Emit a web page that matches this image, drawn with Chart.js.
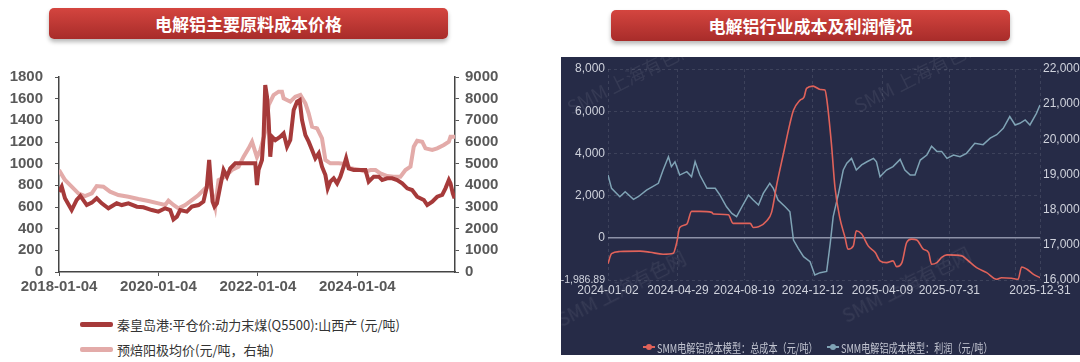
<!DOCTYPE html>
<html>
<head>
<meta charset="utf-8">
<script src="https://cdn.jsdelivr.net/npm/chart.js@4.4.1/dist/chart.umd.min.js"></script>
<style>
body{margin:0;width:1080px;height:362px;position:relative;overflow:hidden;background:#fff;font-family:'Noto Sans CJK SC','Noto Sans',sans-serif}
.banner{position:absolute;width:399px;height:31px;line-height:31px;border-radius:5px;background:linear-gradient(#d4453f,#a82c2a);box-shadow:0 3px 4px rgba(0,0,0,0.28);color:#fff;font-weight:bold;font-size:17px;text-align:center}
#coal{position:absolute;left:0;top:50px}
.lg{position:absolute;left:80px;height:16px;display:flex;align-items:center;font-size:13px;color:#333;white-space:nowrap}
.lg i{display:inline-block;width:33px;height:5px;border-radius:2px;margin-right:4px}
#panel{position:absolute;left:561px;top:57px;width:519px;height:298px;background:#262b47;overflow:hidden}
#panel canvas{position:absolute;left:0;top:0}
.wm{position:absolute;font-size:19px;line-height:22px;color:rgba(255,255,255,0.07);white-space:nowrap;transform:rotate(-27deg);transform-origin:0 100%;pointer-events:none}
.leg2{position:absolute;top:282px;height:16px;display:flex;align-items:center;color:#c3c6d2;font-size:12px;white-space:nowrap}
.leg2 .ic{position:relative;width:12px;height:16px;margin-right:2px}
.leg2 .ic:before{content:'';position:absolute;left:0;top:7px;width:12px;height:2px;background:var(--c)}
.leg2 .ic:after{content:'';position:absolute;left:3px;top:5px;width:6px;height:6px;border-radius:50%;background:var(--c)}
.leg2 .t{display:inline-block;transform:scaleX(0.76);transform-origin:0 50%}
</style>
</head>
<body>
<div class="banner" style="left:49px;top:8px">电解铝主要原料成本价格</div>
<div class="banner" style="left:611px;top:10px">电解铝行业成本及利润情况</div>

<canvas id="coal" width="540" height="250" style="width:540px;height:250px"></canvas>
<div class="lg" style="top:316px"><i style="background:#a63a3a"></i>秦皇岛港:平仓价:动力末煤(Q5500):山西产 (元/吨)</div>
<div class="lg" style="top:341px"><i style="background:#e3aba9"></i>预焙阳极均价(元/吨，右轴)</div>

<div id="panel">
  <canvas id="smm" width="519" height="298" style="width:519px;height:298px"></canvas>
  <div class="wm" style="left:12px;top:39px">SMM 上海有色网</div>
  <div class="wm" style="left:299px;top:37px">SMM 上海有色网</div>
  <div class="wm" style="left:2px;top:251px">SMM 上海有色网</div>
  <div class="wm" style="left:287px;top:247px">SMM 上海有色网</div>
  <div class="leg2" style="left:82px"><span class="ic" style="--c:#e0625a"></span><span class="t">SMM电解铝成本模型：总成本（元/吨）</span></div>
  <div class="leg2" style="left:266px"><span class="ic" style="--c:#7fa3b5"></span><span class="t">SMM电解铝成本模型：利润（元/吨）</span></div>
</div>

<script>
const DAY = 86400000;
const dayOf = (from, s) => Math.round((Date.parse(s) - Date.parse(from)) / DAY);
const pts = (d, v) => d.map((x, i) => ({x: x, y: v[i]}));

// left chart: coal (left axis) and prebaked anode (right axis), x = days since coalStart
const coalStart = '2018-01-04';
const coalEnd = '2025-12-22';
const coalTickDates = ['2018-01-04', '2020-01-04', '2022-01-04', '2024-01-04'];
const coalDays = [0,20,44,93,130,157,204,241,277,314,363,424,461,510,572,620,682,730,780,817,
  841,866,890,939,976,1025,1061,1086,1103,1116,1128,1142,1160,1184,1209,1234,1258,1295,1368,1405,
  1442,1454,1466,1491,1503,1515,1528,1540,1552,1565,1589,1626,1650,1675,1699,1724,1749,1768,1785,1810,
  1834,1859,1883,1908,1932,1957,1974,1993,2018,2043,2067,2091,2109,2128,2165,2214,2251,2275,2312,2349,
  2374,2411,2447,2484,2521,2558,2594,2631,2680,2705,2742,2778,2815,2839,2864,2876,2893,2906];
const coalPrice = [741,788,680,572,665,702,618,640,680,634,588,634,618,634,603,597,572,557,588,572,
  486,511,572,557,603,618,650,788,1034,818,650,603,634,788,942,880,957,1003,1003,1003,
  1003,803,942,1034,1249,1726,1618,1403,1064,1249,1218,1249,1280,1157,1218,1495,1572,1587,1403,1264,
  1203,1126,1049,1095,972,895,772,834,865,818,880,972,1049,957,942,942,942,834,880,880,
  849,865,865,849,818,772,757,695,665,618,650,695,711,772,849,818,726,680];
const anodeDays = [0,44,93,142,191,241,277,326,375,436,510,583,657,730,780,804,841,878,927,976,
  1025,1074,1111,1148,1172,1221,1270,1319,1356,1393,1418,1454,1479,1515,1540,1576,1613,1638,1650,1699,
  1736,1773,1810,1834,1859,1896,1932,1957,1993,2055,2104,2141,2214,2251,2288,2325,2361,2411,2459,2508,
  2545,2582,2606,2631,2668,2692,2742,2778,2827,2864,2876,2913];
const anodePrice = [4707,4246,3938,3630,3507,3630,3969,3938,3707,3553,3476,3369,3276,3169,3092,3291,3092,2938,3092,3322,
  3553,3861,4015,3015,4246,4400,4707,4861,5323,5707,6015,5300,5630,6476,7707,8169,8322,8322,8015,7861,
  8092,8169,7784,7323,6707,6630,6169,5169,5015,5015,4984,4784,4707,4630,4707,4707,4553,4430,4400,4400,
  4707,4861,5784,6061,6015,5707,5630,5707,5861,6015,6246,6246];

// right chart: SMM cost model, x = days since smmStart
const smmStart = '2024-01-02';
const smmTickDates = ['2024-01-02', '2024-04-29', '2024-08-19', '2024-12-12', '2025-04-09', '2025-07-31', '2025-12-31'];
const smmExtraGrid = '2025-11-19';
const profitTicks = [-1986.89, 0, 2000, 4000, 6000, 8000];
const profitDays = [0,6,20,29,43,51,65,85,93,102,107,113,121,133,141,147,155,167,181,189,
  200,209,217,226,237,245,254,262,273,279,287,299,307,313,321,330,341,349,358,369,
  375,380,389,397,403,411,419,428,437,448,453,459,470,481,493,501,510,518,527,538,
  546,555,563,572,583,594,605,619,633,645,656,667,678,687,695,704,712,723,729];
const profitVal = [2980,2350,1955,2190,1830,1955,2270,2590,3220,3850,3380,3610,2980,3140,2900,3610,2980,2350,2350,2035,
  1480,1165,1010,1480,2035,1800,1560,2110,2590,2350,1800,1480,1240,-95,-490,-885,-1120,-1750,-1640,-1580,
  -250,1010,2110,3220,3540,3770,3220,3460,3610,3770,3610,2900,3220,3380,3720,3220,2980,2980,3690,3930,
  4340,4100,4100,3770,3930,3850,4010,4480,4420,4730,4890,5190,5750,5350,5430,5590,5350,5900,6300];
const costDays = [0,6,20,54,71,93,110,116,121,133,141,155,175,178,203,211,240,245,254,268,
  276,285,296,307,313,324,331,335,346,358,366,369,377,383,391,400,405,414,419,428,
  439,451,459,470,481,487,496,504,512,521,532,541,546,555,563,572,597,605,622,639,
  656,664,681,692,698,707,718,729];
const costVal = [16466,16751,16809,16820,16790,16734,16760,17066,17494,17590,17951,17951,17923,17875,17856,17609,17609,17494,17513,17686,
  17923,18734,19591,20448,20828,21114,21209,21448,21514,21419,21400,21162,19877,18637,17780,17208,16875,16970,17400,17305,
  16970,16780,16543,16495,16543,16380,16495,17066,17161,17140,16875,16780,16448,16495,16640,16714,16686,16590,16350,16210,
  16020,16066,16050,16020,16371,16305,16160,16066];

const narrow = "'Liberation Sans Narrow','Liberation Sans',Arial,sans-serif";
const leftFont = {family: narrow, size: 15, weight: 'bold'};
const axisGrey = '#595959';

new Chart(document.getElementById('coal'), {
  type: 'line',
  data: {datasets: [
    {label: '秦皇岛港:平仓价:动力末煤(Q5500):山西产 (元/吨)', data: pts(coalDays, coalPrice), yAxisID: 'y',
     borderColor: '#a63a3a', borderWidth: 4, pointRadius: 0, tension: 0},
    {label: '预焙阳极均价(元/吨，右轴)', data: pts(anodeDays, anodePrice), yAxisID: 'y1',
     borderColor: '#e3aba9', borderWidth: 4, pointRadius: 0, tension: 0}
  ]},
  options: {
    responsive: false, animation: false,
    layout: {padding: {top: 27, left: 0, right: 0, bottom: 0}},
    plugins: {legend: {display: false}, tooltip: {enabled: false}},
    scales: {
      x: {type: 'linear', min: 0, max: dayOf(coalStart, coalEnd),
        afterBuildTicks: s => { s.ticks = coalTickDates.map(d => ({value: dayOf(coalStart, d)})); },
        afterFit: s => { s.height = 28; },
        ticks: {callback: (v, i) => coalTickDates[i], font: leftFont, color: axisGrey, maxRotation: 0, autoSkip: false, padding: 2},
        grid: {drawOnChartArea: false, tickLength: 4, color: '#555'},
        border: {color: '#444', width: 1.5}},
      y: {position: 'left', min: 0, max: 1800,
        afterFit: s => { s.width = 59; },
        ticks: {stepSize: 200, callback: v => String(v), font: leftFont, color: axisGrey, padding: 12},
        grid: {drawOnChartArea: false, tickLength: 4, color: '#555'},
        border: {color: '#444', width: 1.5}},
      y1: {position: 'right', min: 0, max: 9000,
        afterFit: s => { s.width = 85; },
        ticks: {stepSize: 1000, callback: v => String(v), font: leftFont, color: axisGrey, padding: 6},
        grid: {drawOnChartArea: false, tickLength: 4, color: '#555'},
        border: {color: '#444', width: 1.5}}
    }
  }
});

const smmFont = {family: narrow, size: 12};
const smmText = '#cfd2dc';
const smmTicks = smmTickDates.map(d => dayOf(smmStart, d));
const extraDay = dayOf(smmStart, smmExtraGrid);

new Chart(document.getElementById('smm'), {
  type: 'line',
  data: {datasets: [
    {label: 'SMM电解铝成本模型：总成本（元/吨）', data: pts(costDays, costVal), yAxisID: 'y1',
     borderColor: '#e0625a', borderWidth: 1.6, pointRadius: 0, cubicInterpolationMode: 'monotone'},
    {label: 'SMM电解铝成本模型：利润（元/吨）', data: pts(profitDays, profitVal), yAxisID: 'y',
     borderColor: '#7fa3b5', borderWidth: 1.5, pointRadius: 0, tension: 0}
  ]},
  options: {
    responsive: false, animation: false,
    layout: {padding: {top: 12, left: 0, right: 0, bottom: 0}},
    plugins: {legend: {display: false}, tooltip: {enabled: false}},
    scales: {
      x: {type: 'linear', min: 0, max: dayOf(smmStart, smmTickDates[smmTickDates.length - 1]),
        afterBuildTicks: s => {
          s.ticks = smmTicks.map(v => ({value: v}));
          s.ticks.splice(smmTicks.length - 1, 0, {value: extraDay});
        },
        afterFit: s => { s.height = 75; },
        ticks: {callback: v => { const k = smmTicks.indexOf(v); return k < 0 ? '' : smmTickDates[k]; },
          font: smmFont, color: smmText, maxRotation: 0, autoSkip: false, padding: 3},
        grid: {drawTicks: false, color: 'rgba(255,255,255,0.11)'},
        border: {display: false, dash: [3, 3]}},
      y: {position: 'left', min: profitTicks[0], max: profitTicks[profitTicks.length - 1],
        afterBuildTicks: s => { s.ticks = profitTicks.map(v => ({value: v})); },
        afterFit: s => { s.width = 47; },
        ticks: {callback: v => v.toLocaleString('en-US', {maximumFractionDigits: 2}),
          font: c => (c.tick && c.tick.value < 0) ? {family: narrow, size: 10.5} : smmFont,
          color: smmText, padding: 3},
        grid: {drawTicks: false,
          color: c => (c.tick && c.tick.value === 0) ? '#8d92a8' : 'rgba(255,255,255,0.11)',
          lineWidth: c => (c.tick && c.tick.value === 0) ? 1.6 : 1},
        border: {display: false, dash: c => (c.tick && c.tick.value === 0) ? [] : [3, 3]}},
      y1: {position: 'right', min: 16000, max: 22000,
        afterFit: s => { s.width = 40; },
        ticks: {stepSize: 1000, callback: v => v.toLocaleString('en-US'), font: smmFont, color: smmText, padding: 3},
        grid: {drawOnChartArea: false, drawTicks: false},
        border: {display: false}}
    }
  }
});
</script>
</body>
</html>
